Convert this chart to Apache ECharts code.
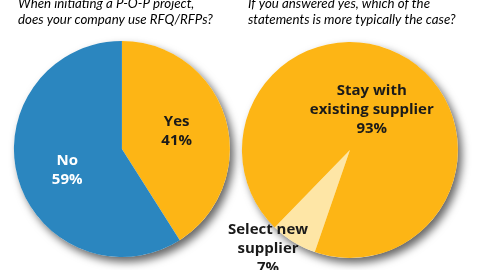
<!DOCTYPE html>
<html><head><meta charset="utf-8">
<script src="https://cdn.jsdelivr.net/npm/echarts@6/dist/echarts.min.js"></script>
<style>html,body{margin:0;padding:0;background:#fff}#c{width:480px;height:270px}</style>
</head><body><div id="c"></div>
<script>
const q1Title = "When initiating a P-O-P project,\ndoes your company use RFQ/RFPs?";
const q2Title = "If you answered yes, which of the\nstatements is more typically the case?";
const q1Labels = ["Yes", "No"];
const q1Values = [41, 59];
const q2Labels = ["Select new\nsupplier", "Stay with\nexisting supplier"];
const q2Values = [7, 93];

const YEL = "#FDB515", BLUE = "#2B86BF", LIGHT = "#FEE6A6";
const font = "Open Sans";
const tfont = "Lato";
const chart = echarts.init(document.getElementById('c'));

function backdrop(center) {
  return {type:'pie', silent:true, center:center, radius:108, z:1, label:{show:false}, labelLine:{show:false},
    itemStyle:{color:'#ffffff', shadowColor:'rgba(0,0,0,0.6)', shadowBlur:8, shadowOffsetX:4, shadowOffsetY:5},
    data:[{value:1}], animation:false};
}
const labelBase = {show:true, position:'inside', fontFamily:font, fontWeight:'bold', fontSize:15, lineHeight:19,
  color:'#1a1a1a', formatter: p => p.name + "\n" + p.value + "%"};
const tStyle = {fontFamily:tfont, fontStyle:'italic', fontWeight:'normal', fontSize:13.3, lineHeight:15.5, color:'#000'};

chart.setOption({
  animation:false,
  title:[
    {text:q1Title, left:13, top:-9, textStyle:tStyle},
    {text:q2Title, left:243, top:-9, textStyle:tStyle}
  ],
  series:[
    backdrop(['25.4%', 149]),
    backdrop(['72.9%', 150]),
    {type:'pie', center:['25.4%', 149], radius:108, z:2, startAngle:90, clockwise:true, silent:true,
      labelLine:{show:false},
      label:labelBase,
      labelLayout: p => p.dataIndex === 1 ? {dy:5} : {dy:-2},
      data: q1Labels.map((n,i)=>({name:n, value:q1Values[i],
        itemStyle:{color: i===0?YEL:BLUE},
        label:{color: i===0?'#1a1a1a':'#ffffff'}}))
    },
    {type:'pie', center:['72.9%', 150], radius:108, z:2, startAngle:251, clockwise:true, silent:true,
      labelLine:{show:false},
      label:labelBase,
      labelLayout: p => p.dataIndex === 0 ? {dx:-52, dy:50} : {dx:-8, dy:8},
      data: q2Labels.map((n,i)=>({name:n, value:q2Values[i],
        itemStyle:{color: i===0?LIGHT:YEL}}))
    }
  ]
});
</script></body></html>
